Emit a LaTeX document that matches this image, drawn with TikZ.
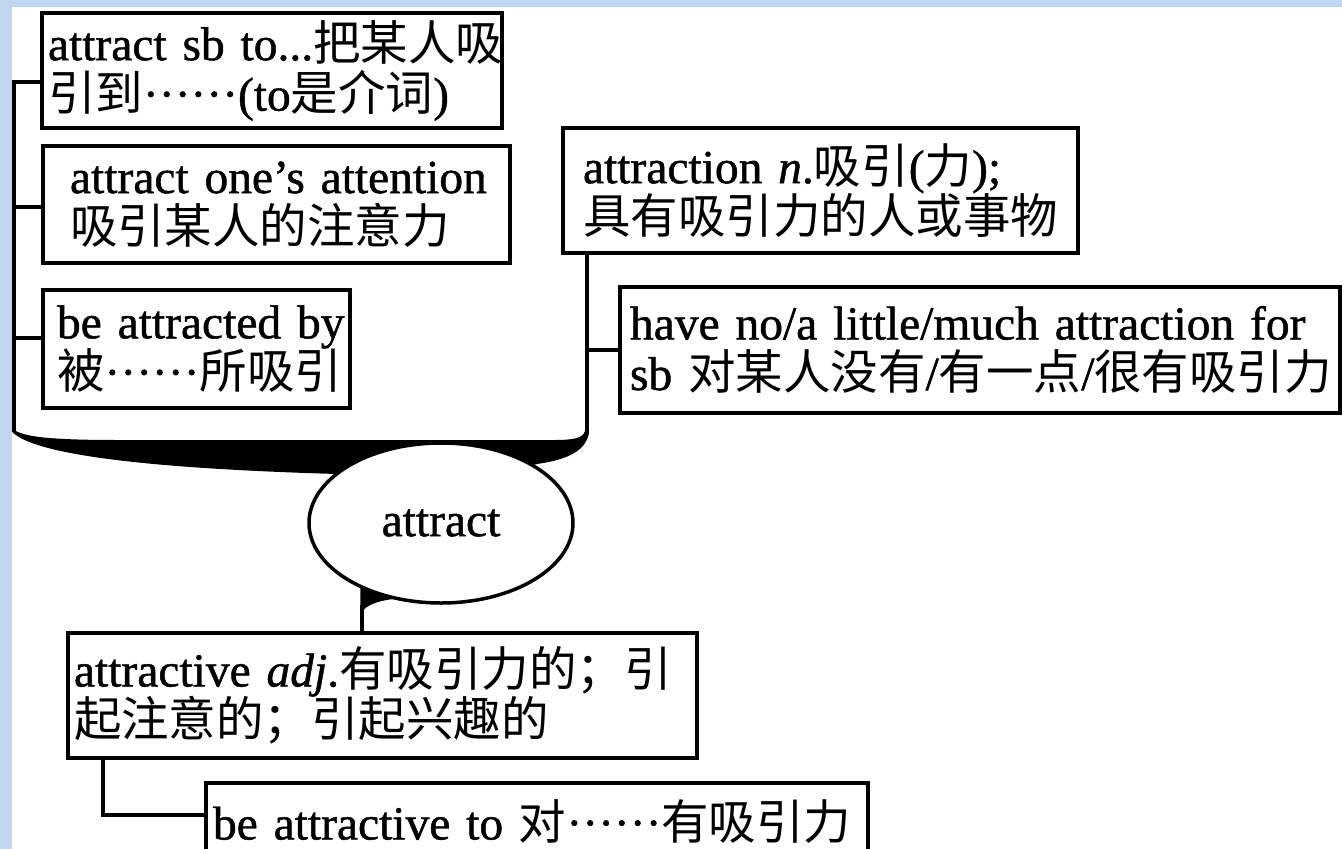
\documentclass[tikz,border=0pt]{standalone}
\usepackage{fontspec}
\setmainfont[FakeBold=1]{Liberation Serif}
\newfontfamily\cjk{Noto Sans CJK SC}
\newcommand{\zh}[1]{{\cjk #1}}
\newcommand{\dd}{\raisebox{0.3em}{……}}
\usetikzlibrary{shapes.geometric}
\definecolor{bgblue}{RGB}{190,215,238}
\setlength{\lineskiplimit}{-100pt}
\begin{document}
\begin{tikzpicture}[x=1pt,y=-1pt,
  every node/.style={font=\fontsize{47.5}{50.5}\selectfont},
  box/.style={draw, line width=3.5pt, fill=white, align=left, inner ysep=0pt, anchor=center},
  conn/.style={line width=3.5pt},
  core/.style={draw, ellipse, line width=3.5pt, fill=white, inner sep=0pt}
]
\useasboundingbox (0,0) rectangle (1342,849);
\fill[bgblue] (0,0) rectangle (1342,849);
\fill[white] (11.5,7) rectangle (1342,849);

% black band joining the two brackets to the core
\fill (12.25,428) .. controls (20,438) and (60,440) .. (120,440) -- (555,440)
  .. controls (580,440) and (585.25,436) .. (585.25,428) -- (588.75,428)
  -- (588.75,434) .. controls (585,452) and (565,460) .. (537,464)
  -- (441,490) -- (337,474) .. controls (200,470) and (40,460) .. (12.25,432) -- cycle;
% small fillet below the core
\fill (360.25,584) -- (360.25,614) .. controls (366,604) and (380,600) .. (402,598) -- (402,588) -- cycle;

\coordinate (lb) at (14,432);
\coordinate (rb) at (587,432);
\coordinate (cx) at (362,0);
\coordinate (c67) at (103,0);

\node[box, text width=448pt, inner xsep=6pt, minimum height=115pt] (b1) at (272,70.5)
  {\mbox{attract sb to...\zh{把某人吸}}\\\mbox{\zh{引到}\dd(to\zh{是介词})}};
\node[box, text width=413pt, inner xsep=27pt, minimum height=117pt] (b2) at (276.5,204.5)
  {\mbox{attract one’s attention}\\\mbox{\zh{吸引某人的注意力}}};
\node[box, text width=279pt, inner xsep=14pt, minimum height=118pt] (b3) at (196.5,349)
  {\mbox{be attracted by}\\\mbox{\zh{被}\dd\zh{所吸引}}};
\node[box, text width=475pt, inner xsep=20pt, minimum height=125pt] (b4) at (820.5,190.5)
  {\mbox{attraction \textit{n}.\zh{吸引}(\zh{力});}\\\mbox{\zh{具有吸引力的人或事物}}};
\node[box, text width=700pt, inner xsep=10pt, minimum height=126pt] (b5) at (980,350)
  {\mbox{have no/a little/much attraction for}\\\mbox{sb \zh{对某人没有}/\zh{有一点}/\zh{很有吸引力}}};
\node[box, text width=617pt, inner xsep=6pt, minimum height=125pt] (b6) at (382.5,695.5)
  {\mbox{attractive \textit{adj}.\zh{有吸引力的；引}}\\\mbox{\zh{起注意的；引起兴趣的}}};
\node[box, text width=648pt, inner xsep=7pt, minimum height=77pt] (b7) at (537,821.5)
  {\mbox{be attractive to \zh{对}\dd\zh{有吸引力}}};
\node[core, minimum width=264pt, minimum height=160pt] (core) at (441,523) {attract};

% left bracket
\draw[conn] ([yshift=-11.5pt]b1.west) -| (lb);
\path ([yshift=-2.5pt]b2.west) coordinate (t2);
\draw[conn] (t2) -- (t2 -| lb);
\path ([yshift=11pt]b3.west) coordinate (t3);
\draw[conn] (t3) -- (t3 -| lb);
% right bracket
\draw[conn] (b4.south -| rb) -- (rb);
\draw[conn] (b5.west) -- (b5.west -| rb);
% below the core
\draw[conn] (core.south -| cx) -- (b6.north -| cx);
\path ([yshift=6.5pt]b7.west) coordinate (t7);
\draw[conn] (b6.south -| c67) |- (t7);
\end{tikzpicture}
\end{document}
